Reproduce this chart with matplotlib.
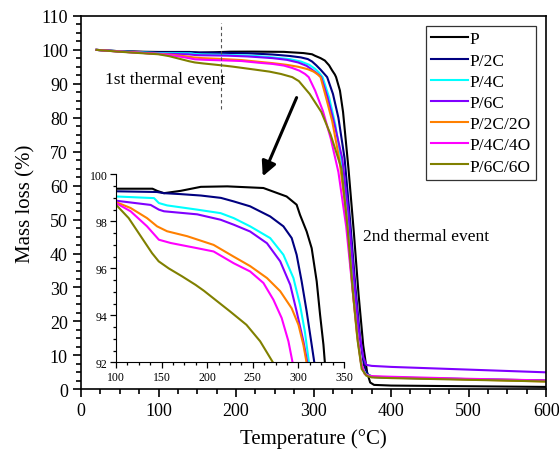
import matplotlib
matplotlib.use("Agg")
import matplotlib.pyplot as plt
from matplotlib.ticker import MultipleLocator

# TGA curves, temperature (C) and remaining mass (%) for each sample
labels = ["P", "P/2C", "P/4C", "P/6C", "P/2C/2O", "P/4C/4O", "P/6C/6O"]
colors = ["#000000", "#000080", "#00ffff", "#8000ff", "#ff8000", "#ff00ff", "#808000"]

t_p = [20, 50, 80, 100, 140, 145, 152.6, 171, 193, 222, 261.6, 287, 298, 301.7, 309, 314.5, 320,
       323.7, 327.4, 329, 334, 338, 345, 352, 358, 364, 369, 373, 378, 400, 500, 600]
m_p = [100, 99.6, 99.45, 99.39, 99.39, 99.3, 99.2, 99.3, 99.47, 99.49, 99.42, 99.06, 98.71, 98.28, 97.57, 96.86, 95.45,
       94.03, 92.75, 91.97, 88, 81.7, 65, 46, 28, 13, 5, 2, 1.3, 1.1, 0.9, 0.7]

t_2c = [20, 50, 80, 100, 145, 152.6, 171, 193, 215, 229, 247, 269, 283.5, 292.6, 298, 303.5, 309,
        314.5, 317.5, 325, 332, 340, 347, 354, 360, 365, 370, 378, 400, 500, 600]
m_2c = [100, 99.6, 99.38, 99.28, 99.25, 99.2, 99.16, 99.1, 99.0, 98.85, 98.64, 98.21, 97.79, 97.29, 96.58, 95.45, 94.17,
        92.75, 91.97, 87, 80, 68, 50, 30, 15, 7, 4.3, 3.6, 3.4, 3.0, 2.6]

t_4c = [20, 50, 80, 100, 141.7, 147, 156, 189, 214.7, 229, 247, 269, 283.5, 294.5, 301.7, 307, 311.6,
        320, 328, 336, 344, 351, 357, 362, 367, 375, 400, 500, 600]
m_4c = [100, 99.55, 99.25, 99.06, 98.99, 98.78, 98.68, 98.5, 98.35, 98.14, 97.79, 97.29, 96.58, 95.59, 94.45, 93.32, 91.97,
        86, 78, 67, 50, 30, 15, 7, 4.5, 3.7, 3.5, 3.0, 2.4]

t_6c = [20, 50, 80, 100, 138, 147, 152.6, 189, 214.7, 229, 247, 265.5, 280, 291, 298, 305.4, 309.8,
        318, 327, 337, 345, 352, 358, 364, 368, 375, 400, 500, 600]
m_6c = [100, 99.5, 99.1, 98.88, 98.7, 98.5, 98.43, 98.3, 98.07, 97.86, 97.57, 97.07, 96.3, 95.3, 94.17, 92.9, 91.97,
        86, 78, 68, 52, 33, 18, 9.5, 7.2, 6.9, 6.6, 5.8, 5.0]

t_2c2o = [20, 50, 80, 100, 116, 134, 145, 156, 178, 207, 229, 247, 265.5, 280, 292.6, 300, 305.4, 309,
          316, 324, 333, 342, 350, 356, 361, 366, 372, 400, 500, 600]
m_2c2o = [100, 99.5, 99.1, 98.82, 98.57, 98.14, 97.79, 97.58, 97.37, 97.0, 96.5, 96.1, 95.59, 95.03, 94.3, 93.6, 92.75, 91.97,
          86, 79, 68, 52, 30, 16, 8, 4.5, 3.8, 3.5, 2.9, 2.3]

t_4c4o = [20, 50, 80, 100, 116, 134, 147, 160, 189, 207, 229, 247, 261.6, 272.5, 281.6, 289, 293.7,
          302, 312, 322, 332, 342, 350, 356, 361, 366, 372, 400, 500, 600]
m_4c4o = [100, 99.5, 99.1, 98.78, 98.43, 97.79, 97.22, 97.08, 96.86, 96.72, 96.22, 95.87, 95.38, 94.67, 93.89, 92.9, 91.97,
          88, 82, 74, 64, 48, 30, 17, 8, 4.5, 3.9, 3.7, 3.1, 2.6]

t_6c6o = [20, 50, 80, 100, 113.9, 128.5, 139.5, 146.8, 157.8, 172.5, 187.2, 196.3, 225, 243, 258, 272.5,
          281, 295, 310, 322, 336, 344, 351, 357, 362, 368, 375, 400, 500, 600]
m_6c6o = [100, 99.45, 99.0, 98.71, 98.14, 97.29, 96.65, 96.3, 96.0, 95.66, 95.3, 95.05, 94.17, 93.6, 92.9, 91.97,
          90.8, 87, 81.7, 75, 65, 47, 28, 14, 6, 4, 3.5, 3.3, 2.8, 2.3]

temps = [t_p, t_2c, t_4c, t_6c, t_2c2o, t_4c4o, t_6c6o]
masses = [m_p, m_2c, m_4c, m_6c, m_2c2o, m_4c4o, m_6c6o]

plt.rcParams["font.family"] = ["Liberation Serif", "DejaVu Serif"]

fig = plt.figure(figsize=(5.59, 4.52), dpi=100)
ax = fig.add_axes([0.145, 0.1365, 0.832, 0.826])

for t, m, lab, c in zip(temps, masses, labels, colors):
    ax.plot(t, m, color=c, lw=1.5, label=lab)

ax.set_xlim(0, 600)
ax.set_ylim(0, 110)
ax.xaxis.set_major_locator(MultipleLocator(100))
ax.xaxis.set_minor_locator(MultipleLocator(25))
ax.yaxis.set_major_locator(MultipleLocator(10))
ax.yaxis.set_minor_locator(MultipleLocator(2.5))
ax.tick_params(which="both", direction="out", top=False, right=False, width=1.2, labelsize=13)
ax.tick_params(which="major", length=6)
ax.tick_params(which="minor", length=3.5)
for s in ax.spines.values():
    s.set_linewidth(1.2)
ax.set_xlabel("Temperature (\u00b0C)", fontsize=15, labelpad=6)
ax.set_ylabel("Mass loss (%)", fontsize=15)

leg = ax.legend(loc="upper right", bbox_to_anchor=(0.978, 0.973), borderaxespad=0,
                fontsize=12.5, handlelength=2.1, handletextpad=0.1, labelspacing=0.29,
                frameon=True, fancybox=False, borderpad=0.3)
leg.get_frame().set_edgecolor("black")
leg.get_frame().set_linewidth(0.9)

# marker for the first event and the two annotations
ax.plot([180, 180], [82.7, 108], color="#555555", lw=0.8, ls=(0, (3, 2.5)))
ax.text(31, 91.5, "1st thermal event", fontsize=12.5, va="center", ha="left")
ax.text(364, 45.2, "2nd thermal event", fontsize=12.5, va="center", ha="left")
ax.annotate("", xy=(233, 62), xytext=(279.5, 86.7),
            arrowprops=dict(arrowstyle="-|>", color="black", lw=2.2, mutation_scale=22))

# zoomed view of the first event
ins = fig.add_axes([0.2075, 0.196, 0.408, 0.416], facecolor="none")
for t, m, c in zip(temps, masses, colors):
    ins.plot(t, m, color=c, lw=1.5)
ins.set_xlim(100, 350)
ins.set_ylim(92, 100)
ins.xaxis.set_major_locator(MultipleLocator(50))
ins.xaxis.set_minor_locator(MultipleLocator(12.5))
ins.yaxis.set_major_locator(MultipleLocator(2))
ins.yaxis.set_minor_locator(MultipleLocator(0.5))
ins.spines["top"].set_visible(False)
ins.spines["right"].set_visible(False)
ins.tick_params(which="both", direction="out", width=0.9, labelsize=8.5, pad=2)
ins.tick_params(which="major", length=4)
ins.tick_params(which="minor", length=2)

fig.savefig("out.png", dpi=100)
